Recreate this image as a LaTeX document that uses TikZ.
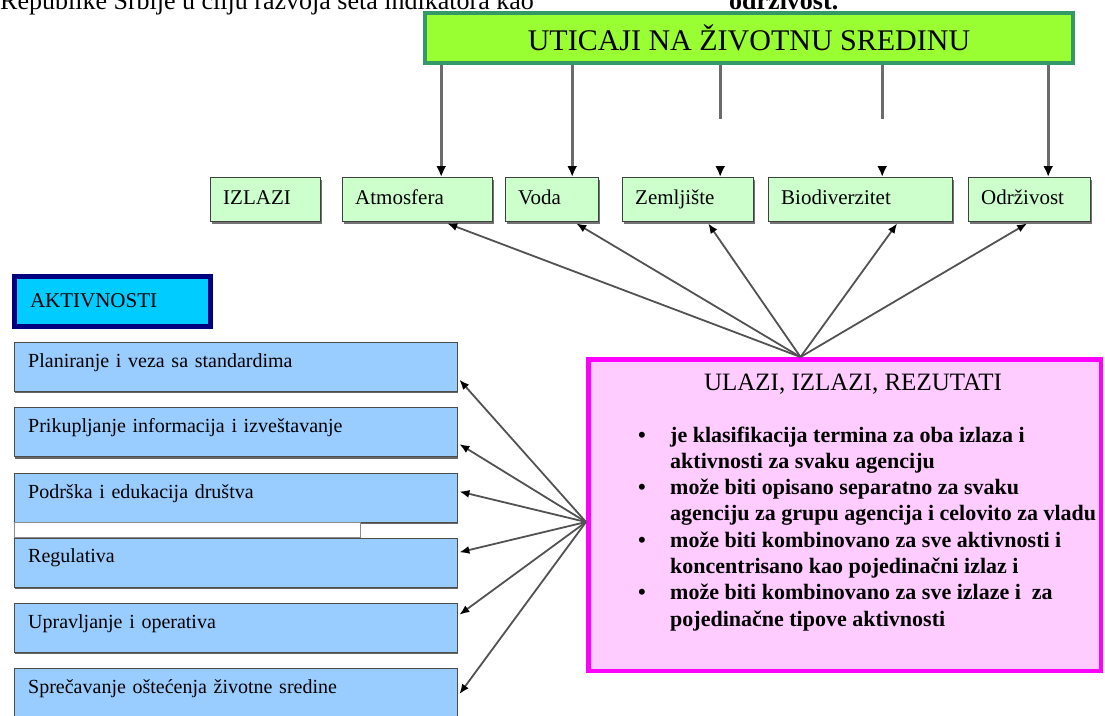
\documentclass[tikz,border=0pt]{standalone}
\usepackage{fontspec}
\setmainfont{Liberation Serif}
\usepackage{xcolor}
\usetikzlibrary{arrows.meta,positioning,shadows}
\definecolor{impactgreen}{HTML}{99FF33}
\definecolor{impactedge}{HTML}{339966}
\definecolor{outgreen}{HTML}{CCFFCC}
\definecolor{actblue}{HTML}{99CCFF}
\definecolor{headcyan}{HTML}{00CCFF}
\definecolor{headnavy}{HTML}{000080}
\definecolor{inpink}{HTML}{FFCCFF}
\definecolor{inedge}{HTML}{FF00FF}
\tikzstyle{impactbox}=[
draw=impactedge,
line width=4pt,
fill=impactgreen,
minimum width=648pt,
minimum height=50pt,
font=\fontsize{30}{34}\selectfont
]
\tikzstyle{outbox}=[
draw=black!75,
fill=outgreen,
anchor=north west,
inner xsep=13pt,
inner ysep=0pt,
text height=27pt,
text depth=17pt,
align=left,
font=\fontsize{21}{25}\selectfont,
drop shadow={shadow xshift=2pt,shadow yshift=-2.5pt,fill=black!55,opacity=1}
]
\tikzstyle{headbox}=[
draw=headnavy,
line width=5pt,
fill=headcyan,
inner xsep=15.5pt,
inner ysep=0pt,
text width=165pt,
text height=30.5pt,
text depth=19.5pt,
align=left,
font=\fontsize{21}{25}\selectfont
]
\tikzstyle{actbox}=[
draw=black!70,
fill=actblue,
inner xsep=14pt,
inner ysep=0pt,
text width=415pt,
text height=25pt,
text depth=24pt,
align=left,
font=\fontsize{20}{24}\selectfont,
drop shadow={shadow xshift=1pt,shadow yshift=-2pt,fill=black!60,opacity=1}
]
\tikzstyle{stripbox}=[
draw=black!45,
fill=white,
anchor=north west,
minimum width=346pt,
minimum height=15pt,
inner sep=0pt
]
\tikzstyle{inbox}=[
draw=inedge,
line width=4.5pt,
fill=inpink,
minimum width=512.5pt,
minimum height=311.5pt
]
\tikzstyle{vline}=[
draw=black!58,
line width=3pt,
-{Latex[length=11pt,width=10pt,color=black]}
]
\tikzstyle{arrow}=[
draw=black!68,
line width=1.8pt,
-{Latex[length=10pt,width=8pt,color=black]}
]
\begin{document}
\begin{tikzpicture}[x=1pt,y=-1pt]
\useasboundingbox (0,0) rectangle (1105,715);
\clip (0,0) rectangle (1105,715);

\node (intro) [anchor=base west, inner sep=0pt, font=\fontsize{26}{30}\selectfont] at (0,9) {Republike Srbije u cilju razvoja seta indikatora kao};
\node (introend) [anchor=base west, inner sep=0pt, font=\fontsize{26}{30}\selectfont\bfseries] at (729,9) {održivost.};

\node (impact) [impactbox] at (749,38) {UTICAJI NA ŽIVOTNU SREDINU};

\node (izlazi) [outbox, text width=84pt] at (210,177) {IZLAZI};
\node (atm) [outbox, text width=124pt] at (342,177) {Atmosfera};
\node (voda) [outbox, text width=67pt] at (505,177) {Voda};
\node (zem) [outbox, text width=105pt] at (622,177) {Zemljište};
\node (bio) [outbox, text width=158pt] at (768,177) {Biodiverzitet};
\node (odr) [outbox, text width=96pt] at (968,177) {Održivost};

\coordinate (atmtop) at ([xshift=24pt]atm.north);
\coordinate (vodatop) at ([xshift=20.5pt]voda.north);
\coordinate (zemtop) at ([xshift=32.5pt]zem.north);
\coordinate (biotop) at ([xshift=22pt]bio.north);
\coordinate (odrtop) at ([xshift=19pt]odr.north);

\draw [vline] (impact.south -| atmtop) -- (atmtop);
\draw [vline] (impact.south -| vodatop) -- (vodatop);
\draw [vline, dash pattern=on 54pt off 60pt] (impact.south -| zemtop) -- (zemtop);
\draw [vline, dash pattern=on 54pt off 60pt] (impact.south -| biotop) -- (biotop);
\draw [vline] (impact.south -| odrtop) -- (odrtop);

\node (aktiv) [headbox] at (112.5,301.5) {AKTIVNOSTI};

\node (plan) [actbox, anchor=north west] at (14,342) {Planiranje i veza sa standardima};
\node (prik) [actbox, below=16pt of plan] {Prikupljanje informacija i izveštavanje};
\node (podr) [actbox, below=16pt of prik] {Podrška i edukacija društva};
\node (gap) [stripbox] at (podr.south west) {};
\node (reg) [actbox, anchor=north west] at (gap.south west) {Regulativa};
\node (upr) [actbox, below=16pt of reg] {Upravljanje i operativa};
\node (spr) [actbox, below=16pt of upr] {Sprečavanje oštećenja životne sredine};

\node (inout) [inbox] at (844.5,515) {};
\node (intitle) [anchor=base, inner sep=0pt, font=\fontsize{25}{30}\selectfont] at (853,390) {ULAZI, IZLAZI, REZUTATI};
\node (inlist) [anchor=base west, inner sep=0pt, font=\fontsize{22}{26.3}\selectfont\bfseries] at (638,442) {
\begin{tabular}[t]{@{}p{32pt}@{}l@{}}
\textbullet & je klasifikacija termina za oba izlaza i\\
 & aktivnosti za svaku agenciju\\
\textbullet & može biti opisano separatno za svaku\\
 & agenciju za grupu agencija i celovito za vladu\\
\textbullet & može biti kombinovano za sve aktivnosti i\\
 & koncentrisano kao pojedinačni izlaz i\\
\textbullet & može biti kombinovano za sve izlaze i~ za\\
 & pojedinačne tipove aktivnosti
\end{tabular}
};

\coordinate (hubtop) at ([xshift=-44pt]inout.north);
\coordinate (hubleft) at ([yshift=-7pt]inout.west);

\draw [arrow] (hubtop) -- ([shift={(30pt,-2pt)}]atm.south);
\draw [arrow] (hubtop) -- ([shift={(24.5pt,-2pt)}]voda.south);
\draw [arrow] (hubtop) -- ([shift={(20.5pt,-2pt)}]zem.south);
\draw [arrow] (hubtop) -- ([shift={(37pt,-2pt)}]bio.south);
\draw [arrow] (hubtop) -- ([shift={(-2pt,-2pt)}]odr.south);

\draw [arrow] (hubleft) -- ([shift={(2pt,-13pt)}]plan.east);
\draw [arrow] (hubleft) -- ([shift={(2pt,-12pt)}]prik.east);
\draw [arrow] (hubleft) -- ([shift={(2pt,6pt)}]podr.east);
\draw [arrow] (hubleft) -- ([shift={(2pt,10pt)}]reg.east);
\draw [arrow] (hubleft) -- ([shift={(2pt,13pt)}]upr.east);
\draw [arrow] (hubleft) -- ([shift={(2pt,-1pt)}]spr.east);

\end{tikzpicture}
\end{document}
